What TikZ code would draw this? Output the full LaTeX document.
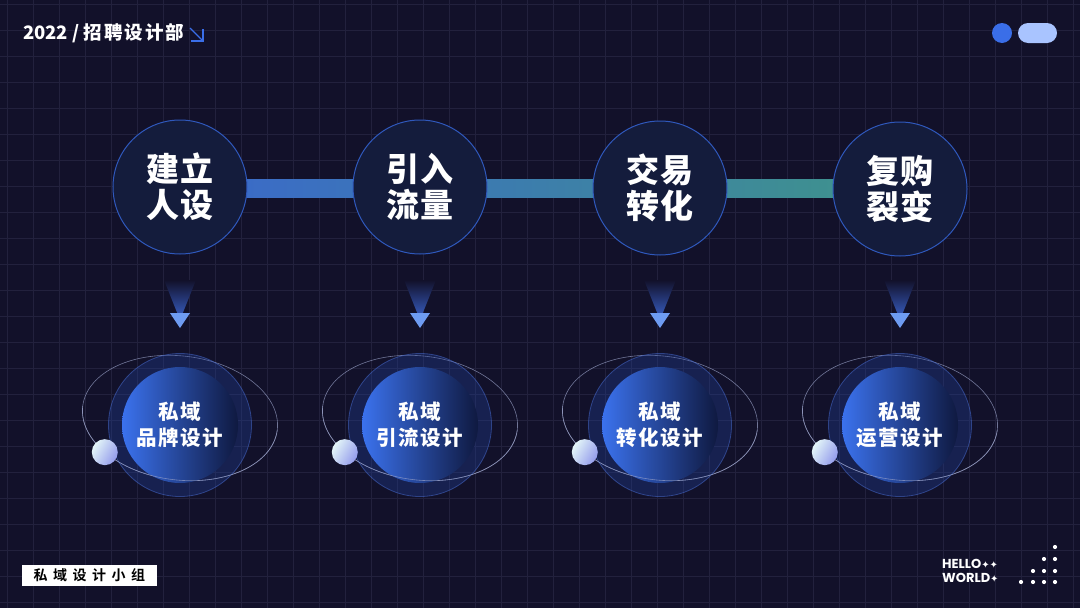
\documentclass[tikz,border=0pt]{standalone}
\usepackage{fontspec}
\newfontfamily\cjk{Noto Sans CJK SC Black}
\newfontfamily\cjkb{Noto Sans CJK SC Bold}
\newfontfamily\dejavu{DejaVu Sans}
\newfontfamily\lat{Poppins}
\usetikzlibrary{calc}
\pgfdeclarelayer{back}
\pgfdeclarelayer{mid}
\pgfsetlayers{back,mid,main}
\definecolor{bgc}{HTML}{12112A}
\definecolor{gridc}{HTML}{22213D}
\definecolor{tfill}{HTML}{141C3C}
\definecolor{tborder}{HTML}{2F58BC}
\definecolor{barL}{HTML}{3A68CC}
\definecolor{barR}{HTML}{3F948A}
\definecolor{ofill}{HTML}{2448A8}
\definecolor{oborder}{HTML}{4A70D8}
\definecolor{innerL}{HTML}{3B72EE}
\definecolor{innerR}{HTML}{0F1940}
\definecolor{orbitc}{HTML}{9AA2C8}
\definecolor{arrowc}{HTML}{3A62CC}
\definecolor{arrowtip}{HTML}{6E9CF2}
\definecolor{dotblue}{HTML}{3A6EE8}
\definecolor{pillc}{HTML}{A9C4FF}
\definecolor{sphL}{HTML}{E4F6F8}
\definecolor{sphR}{HTML}{939BEC}
\begin{document}
\begin{tikzpicture}[x=1pt,y=-1pt,
  gridline/.style={draw=gridc, line width=0.8pt},
  tnode/.style={circle, minimum size=134pt, inner sep=0pt, fill=tfill, draw=tborder, line width=1pt,
    text=white, align=center, font=\cjk\fontsize{33}{36}\selectfont},
  outerc/.style={circle, minimum size=143pt, inner sep=0pt, fill=ofill, fill opacity=0.3,
    draw=oborder, draw opacity=0.5, line width=0.8pt},
  innerc/.style={circle, minimum size=116pt, inner sep=0pt, left color=innerL, right color=innerR,
    text=white, align=center, font=\cjk\fontsize{20.5}{26}\selectfont},
  orbit/.style={draw=orbitc, draw opacity=0.7, line width=0.6pt},
  sphere/.style={circle, minimum size=26pt, inner sep=0pt, left color=sphL, right color=sphR, shading angle=60},
  arrowbig/.style={top color=bgc, bottom color=arrowc},
  arrowsmall/.style={fill=arrowtip},
  dot/.style={fill=white}
]
\useasboundingbox (0,0) rectangle (1080,608);
\begin{pgfonlayer}{back}
  \fill[bgc] (0,0) rectangle (1080,608);
  \foreach \gx in {7,33,...,1080} \draw[gridline] (\gx,0) -- (\gx,608);
  \foreach \gy in {4,30,...,608} \draw[gridline] (0,\gy) -- (1080,\gy);
\end{pgfonlayer}

% header
\node[anchor=west, inner sep=0pt, text=white, font=\cjk\fontsize{18.5}{18.5}\selectfont] (title) at (23,33)
  {2022 / 招\kern2pt 聘\kern2pt 设\kern2pt 计\kern2pt 部};
\draw[dotblue, line width=1.3pt] (190,28) -- (203,41);
\draw[dotblue, line width=1.3pt] (191,41) -- (203,41) -- (203,29);
\fill[dotblue] (1002,33) circle (10);
\fill[pillc, rounded corners=10pt] (1018,23) rectangle (1057,43);

% top circles
\node[tnode] (t1) at (180,187) {建\kern1pt 立\\人\kern1pt 设};
\node[tnode] (t2) at (420,187) {引\kern1pt 入\\流\kern1pt 量};
\node[tnode] (t3) at (660,188) {交\kern1pt 易\\转\kern1pt 化};
\node[tnode] (t4) at (900,189) {复\kern1pt 购\\裂\kern1pt 变};
\begin{pgfonlayer}{mid}
  \shade[left color=barL, right color=barR] ($(t1.center)+(0,-8)$) rectangle ($(t4.center)+(0,8)$);
\end{pgfonlayer}

% bottom groups
\foreach \i/\x/\txt in {1/180/{品\kern1.5pt 牌\kern1.5pt 设\kern1.5pt 计},
                        2/420/{引\kern1.5pt 流\kern1.5pt 设\kern1.5pt 计},
                        3/660/{转\kern1.5pt 化\kern1.5pt 设\kern1.5pt 计},
                        4/900/{运\kern1.5pt 营\kern1.5pt 设\kern1.5pt 计}} {
  % down arrow
  \coordinate (m\i) at (\x,304);
  \shade[arrowbig] ($(m\i)+(-16,-24)$) -- ($(m\i)+(16,-24)$) -- ($(m\i)+(0,16)$) -- cycle;
  \fill[arrowsmall] ($(m\i)+(-10,9)$) -- ($(m\i)+(10,9)$) -- ($(m\i)+(0,24)$) -- cycle;
  % orbit behind
  \coordinate (oc\i) at (\x,418);
  \begin{scope}[shift={(oc\i)}, rotate=-7]
    \draw[orbit] (0,0) ellipse[x radius=98, y radius=62];
  \end{scope}
  \node[outerc] (b\i) at (\x,425) {};
  \node[innerc] (i\i) at (\x,425) {私\kern1.5pt 域\\\txt};
  \begin{scope}[shift={(oc\i)}, rotate=-7]
    \draw[orbit] (98,0) arc[start angle=0, end angle=180, x radius=98, y radius=62];
    \node[sphere] (s\i) at (136:98 and 62) {};
  \end{scope}
}

% footer
\node[fill=white, minimum width=135pt, minimum height=21pt, inner sep=0pt, text=black,
  font=\cjkb\fontsize{14}{14}\selectfont] (tag) at (89.5,575)
  {私\kern5.5pt 域\kern5.5pt 设\kern5.5pt 计\kern5.5pt 小\kern5.5pt 组};
\node[anchor=west, inner sep=0pt, text=white, align=left, font=\lat\bfseries\fontsize{13}{14.5}\selectfont] (hello) at (942,571)
  {HELLO{\dejavu\fontsize{10}{10}\selectfont ✦✦}\\WORLD{\dejavu\fontsize{10}{10}\selectfont ✦}};
\foreach \dx/\dy in {1055/547, 1044/559, 1055/559, 1033/571, 1044/571, 1055/571, 1021/582, 1033/582, 1044/582, 1055/582}
  \fill[dot] (\dx,\dy) circle (2.1);
\end{tikzpicture}
\end{document}
